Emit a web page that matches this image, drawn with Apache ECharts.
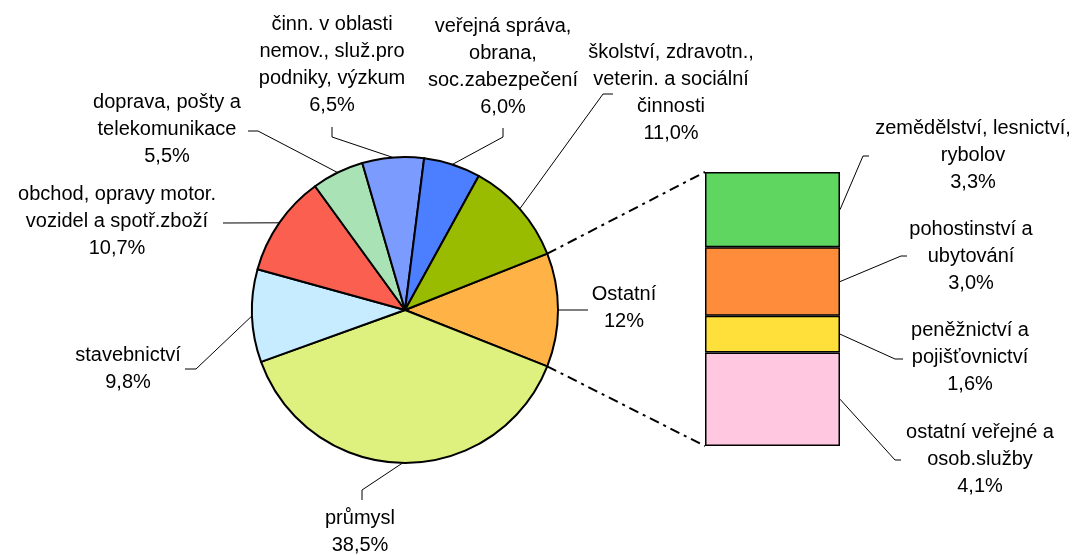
<!DOCTYPE html>
<html>
<head>
<meta charset="utf-8">
<title>Struktura podle odvětví</title>
<script src="https://cdn.jsdelivr.net/npm/echarts@6/dist/echarts.min.js"></script>
<style>
  html, body { margin: 0; padding: 0; background: #fff; }
  #chart { width: 1080px; height: 555px; }
</style>
</head>
<body>
<div id="chart"></div>
<script>
// pie slices, clockwise starting with "Ostatní" (which is broken out into the bar)
const pieNames = [
  'Ostatní',
  'průmysl',
  'stavebnictví',
  'obchod, opravy motor.\nvozidel a spotř.zboží',
  'doprava, pošty a\ntelekomunikace',
  'činn. v oblasti\nnemov., služ.pro\npodniky, výzkum',
  'veřejná správa,\nobrana,\nsoc.zabezpečení',
  'školství, zdravotn.,\nveterin. a sociální\nčinnosti'
]
const pieValues = [12, 38.5, 9.8, 10.7, 5.5, 6.5, 6.0, 11.0]
const pieDecimals = [0, 1, 1, 1, 1, 1, 1, 1]
const pieColors = ['#ffb347', '#def07e', '#c8ecff', '#fa5f4f', '#a9e2b5', '#7b9bff', '#4c7fff', '#99bb00']

// stacked bar (breakdown of "Ostatní"), bottom to top
const barNames = [
  'ostatní veřejné a\nosob.služby',
  'peněžnictví a\npojišťovnictví',
  'pohostinství a\nubytování',
  'zemědělství, lesnictví,\nrybolov'
]
const barValues = [4.1, 1.6, 3.0, 3.3]
const barColors = ['#ffc8e0', '#ffe03a', '#ff8c3a', '#5fd65f']

// layout
const PIE_C = [405, 310]
const PIE_R = 153
const START = pieValues[0] / 100 * 360 / 2
const BAR = { left: 705, top: 172, width: 135, height: 274 }

// label block centres and leader line bends (elbow, end)
const pieLabelPos = [[624, 308], [360, 532], [128, 369], [117, 221], [167, 129], [332, 65], [503, 67], [671, 93]]
const pieLineBend = [
  [[588, 310], [588, 310]],
  [[362, 490], [362, 500]],
  [[196, 369], [185, 369]],
  [[223, 223], [223, 223]],
  [[258, 131], [248, 131]],
  [[332, 137], [332, 127]],
  [[503, 137], [503, 128]],
  [[603, 94], [613, 94]]
]
const barLabelPos = [[980, 459], [970, 357], [971, 256], [973, 155]]
const barLineBend = [
  [[895, 460], [901, 460]],
  [[895, 359], [903, 359]],
  [[901, 256], [907, 256]],
  [[863, 156], [869, 156]]
]

const fmt = (v, d) => v.toFixed(d).replace('.', ',') + '%'
const textStyle = {
  color: '#000',
  fontSize: 20,
  lineHeight: 27,
  fontFamily: '"Liberation Sans", Arial, sans-serif'
}

const chart = echarts.init(document.getElementById('chart'))

chart.setOption({
  animation: false,
  grid: { left: BAR.left, top: BAR.top, width: BAR.width, height: BAR.height },
  xAxis: { type: 'category', data: ['Ostatní'], show: false },
  yAxis: { type: 'value', min: 0, max: 12, show: false },
  series: [
    {
      type: 'pie',
      center: PIE_C,
      radius: PIE_R,
      startAngle: START,
      clockwise: true,
      avoidLabelOverlap: false,
      emphasis: { disabled: true },
      itemStyle: { borderColor: '#000', borderWidth: 2 },
      label: {
        show: true,
        position: 'outside',
        ...textStyle,
        formatter: p => p.name + '\n' + fmt(p.value, pieDecimals[p.dataIndex])
      },
      labelLine: { show: true, length: 10, length2: 10, lineStyle: { color: '#000', width: 1 } },
      labelLayout: p => {
        const i = p.dataIndex
        const pts = p.labelLinePoints
        return {
          x: pieLabelPos[i][0],
          y: pieLabelPos[i][1],
          align: 'center',
          verticalAlign: 'middle',
          labelLinePoints: [pts[0], pieLineBend[i][0], pieLineBend[i][1]]
        }
      },
      data: pieNames.map((n, i) => ({ name: n, value: pieValues[i], itemStyle: { color: pieColors[i] } }))
    },
    ...barNames.map((n, i) => ({
      type: 'bar',
      name: n,
      stack: 'ostatni',
      barWidth: '100%',
      emphasis: { disabled: true },
      itemStyle: { color: barColors[i], borderColor: '#000', borderWidth: 1.5 },
      label: {
        show: true,
        ...textStyle,
        formatter: p => p.seriesName + '\n' + fmt(p.value, 1)
      },
      labelLayout: () => ({
        x: barLabelPos[i][0],
        y: barLabelPos[i][1],
        align: 'center',
        verticalAlign: 'middle'
      }),
      data: [barValues[i]]
    }))
  ]
})

// connectors (pie -> bar) and bar leader lines
function drawExtras() {
  const toY = v => chart.convertToPixel({ yAxisIndex: 0 }, v)
  const total = barValues.reduce((a, b) => a + b, 0)
  const rad = a => a * Math.PI / 180
  const edge = a => [PIE_C[0] + PIE_R * Math.cos(rad(a)), PIE_C[1] - PIE_R * Math.sin(rad(a))]
  const right = BAR.left + BAR.width
  const dash = { stroke: '#000', lineWidth: 2, lineDash: [10, 5, 3, 5], fill: null }

  const graphic = [
    { type: 'polyline', shape: { points: [edge(START), [BAR.left, toY(total)]] }, style: dash, z: 10 },
    { type: 'polyline', shape: { points: [edge(-START), [BAR.left, toY(0)]] }, style: dash, z: 10 }
  ]
  let cum = 0
  barValues.forEach((v, i) => {
    const mid = toY(cum + v / 2)
    cum += v
    graphic.push({
      type: 'polyline',
      shape: { points: [[right, mid], barLineBend[i][0], barLineBend[i][1]] },
      style: { stroke: '#000', lineWidth: 1, fill: null },
      z: 10
    })
  })
  chart.setOption({ graphic })
}
drawExtras()
</script>
</body>
</html>
